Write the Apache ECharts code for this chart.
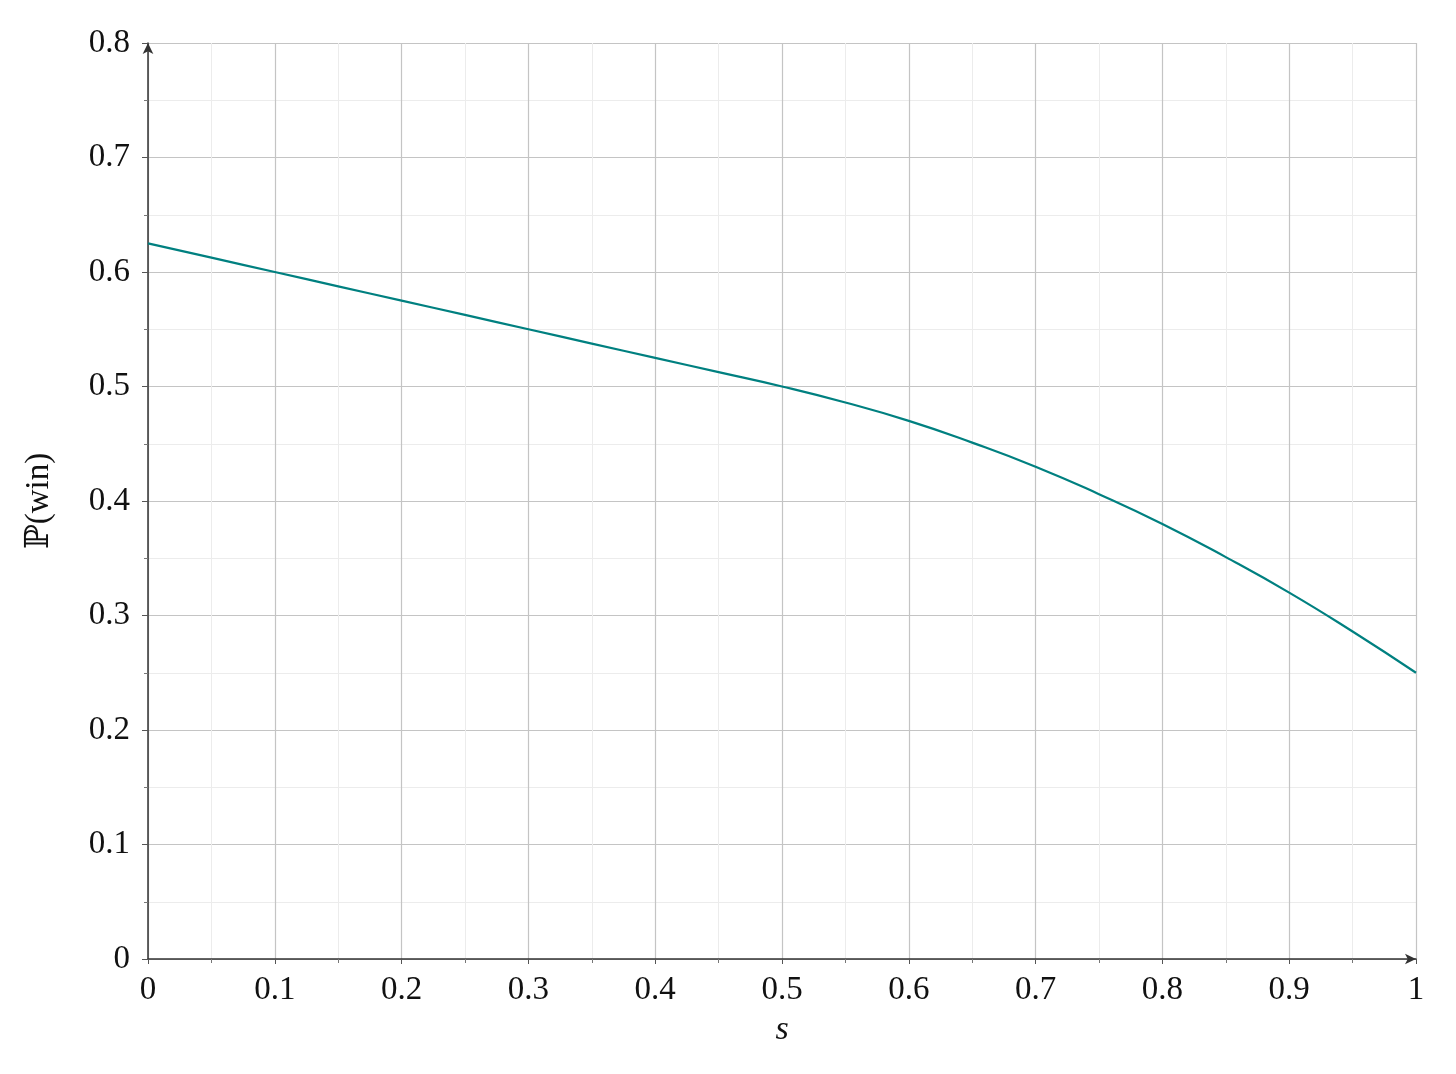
<!DOCTYPE html>
<html>
<head>
<meta charset="utf-8">
<script src="https://cdn.jsdelivr.net/npm/echarts@6/dist/echarts.min.js"></script>
<style>
html,body{margin:0;padding:0;background:#fff;}
#chart{width:1456px;height:1074px;}
</style>
</head>
<body>
<div id="chart"></div>
<script>
const sValues = [0, 0.05, 0.1, 0.15, 0.2, 0.25, 0.3, 0.35, 0.4, 0.45, 0.5, 0.55, 0.6, 0.65, 0.7, 0.75, 0.8, 0.85, 0.9, 0.95, 1];
const pWin = [0.625, 0.6125, 0.6, 0.5875, 0.575, 0.5625, 0.55, 0.5375, 0.525, 0.5125, 0.5, 0.486, 0.47, 0.451, 0.43, 0.406, 0.38, 0.351, 0.32, 0.286, 0.25];
const xTickLabels = ['0', '0.1', '0.2', '0.3', '0.4', '0.5', '0.6', '0.7', '0.8', '0.9', '1'];
const yTickLabels = ['0', '0.1', '0.2', '0.3', '0.4', '0.5', '0.6', '0.7', '0.8'];

const font = '"Liberation Serif", "DejaVu Serif", serif';
const chart = echarts.init(document.getElementById('chart'));
chart.setOption({
  animation: false,
  grid: {left: 148, right: 40, top: 43, bottom: 115, containLabel: false},
  xAxis: {
    type: 'value', min: 0, max: 1, interval: 0.1,
    name: 's', nameLocation: 'middle', nameGap: 54,
    nameTextStyle: {fontFamily: font, fontSize: 34, fontStyle: 'italic', color: '#111'},
    axisLine: {show: true, onZero: false, symbol: ['none', 'arrow'], symbolSize: [8, 11], lineStyle: {color: '#333', width: 1.5}},
    axisTick: {show: true, length: 5, lineStyle: {color: '#555'}},
    minorTick: {show: true, splitNumber: 2, length: 4, lineStyle: {color: '#777'}},
    axisLabel: {fontFamily: font, fontSize: 33, color: '#111', margin: 15,
      formatter: (v) => xTickLabels[Math.round(v * 10)] ?? ''},
    splitLine: {show: true, lineStyle: {color: '#c4c4c4', width: 1.2}},
    minorSplitLine: {show: true, lineStyle: {color: '#ececec', width: 1}}
  },
  yAxis: {
    type: 'value', min: 0, max: 0.8, interval: 0.1,
    name: 'ℙ(win)', nameLocation: 'middle', nameGap: 92, nameRotate: 90,
    nameTextStyle: {fontFamily: font, fontSize: 33, color: '#111'},
    axisLine: {show: true, onZero: false, symbol: ['none', 'arrow'], symbolSize: [8, 11], lineStyle: {color: '#333', width: 1.5}},
    axisTick: {show: true, length: 6, lineStyle: {color: '#555'}},
    minorTick: {show: true, splitNumber: 2, length: 4, lineStyle: {color: '#777'}},
    axisLabel: {fontFamily: font, fontSize: 33, color: '#111', margin: 18,
      formatter: (v) => yTickLabels[Math.round(v * 10)] ?? ''},
    splitLine: {show: true, lineStyle: {color: '#c4c4c4', width: 1.2}},
    minorSplitLine: {show: true, lineStyle: {color: '#ececec', width: 1}}
  },
  series: [{
    type: 'line',
    data: sValues.map((s, i) => [s, pWin[i]]),
    smooth: true,
    showSymbol: false,
    lineStyle: {color: '#008080', width: 2.2},
    itemStyle: {color: '#008080'}
  }]
});
</script>
</body>
</html>
